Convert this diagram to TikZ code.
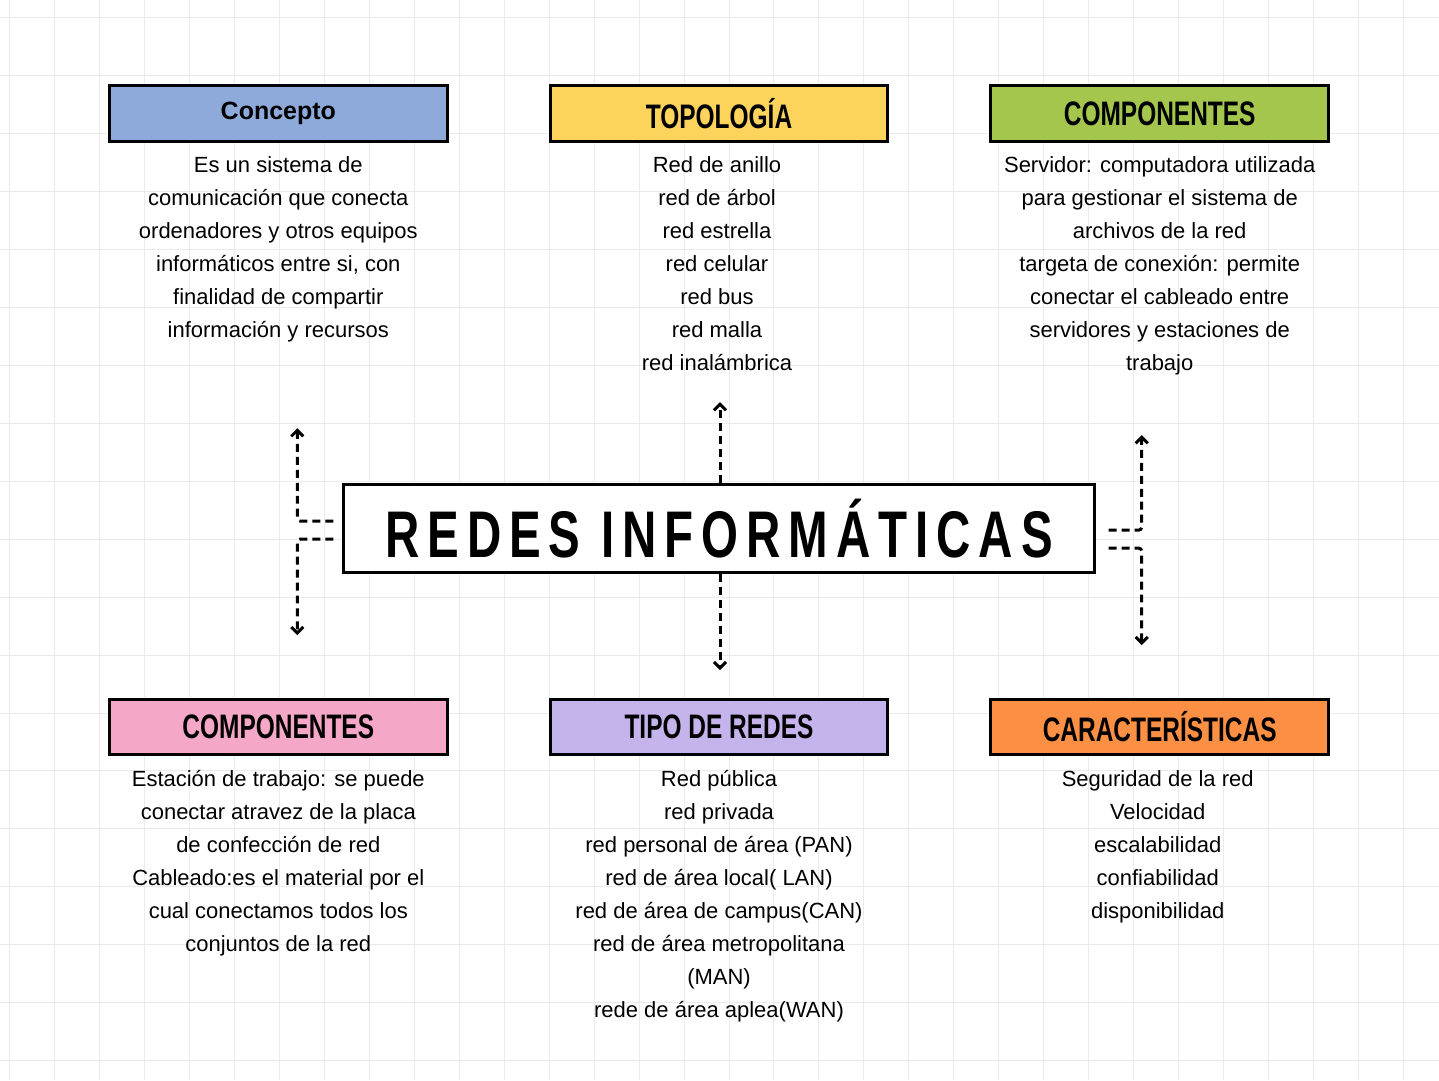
\documentclass[tikz,border=0pt]{standalone}
\usepackage{fontspec}
\setmainfont{Liberation Sans}
\newfontfamily\headfont[FakeStretch=0.72]{Liberation Sans}
\usetikzlibrary{positioning,arrows.meta,calc}
\definecolor{conceptblue}{HTML}{8EAADB}
\definecolor{topoyellow}{HTML}{FCD45C}
\definecolor{compgreen}{HTML}{A4C64C}
\definecolor{comppink}{HTML}{F4A7C6}
\definecolor{tipopurple}{HTML}{C5B3EC}
\definecolor{caracorange}{HTML}{FB8F44}
\begin{document}
\begin{tikzpicture}[x=1pt,y=-1pt,
    header/.style={draw,line width=3pt,minimum width=338pt,minimum height=56pt,inner sep=0pt,font=\fontsize{34}{36}\selectfont\headfont\bfseries},
    bodytext/.style={anchor=north,align=center,font=\fontsize{22}{33}\selectfont,inner sep=0pt},
    link/.style={line width=3pt,dash pattern=on 8pt off 5pt,-{Straight Barb[length=6pt,width=12pt,line width=3pt]}},
  ]
    % background grid
    \fill[white] (0,0) rectangle (1439,1080);
    \foreach \gx in {0,45,...,1439} \draw[black!8,line width=1pt] (\gx+9,0) -- (\gx+9,1080);
    \foreach \gy in {0,58,...,1080} \draw[black!8,line width=1pt] (0,\gy+17) -- (1439,\gy+17);

    % headers
    \node[header,fill=conceptblue,font=\fontsize{25}{28}\selectfont\bfseries] (concepto) at (278,113) {Concepto};
    \node[header,fill=topoyellow] (topologia) at (719,113) {TOPOLOGÍA};
    \node[header,fill=compgreen] (comptop) at (1160,113) {COMPONENTES};
    \node[header,fill=comppink] (compbot) at (278,727) {COMPONENTES};
    \node[header,fill=tipopurple] (tipo) at (719,727) {TIPO DE REDES};
    \node[header,fill=caracorange] (carac) at (1160,727) {CARACTERÍSTICAS};

    % texts
    \node[bodytext] (conceptotxt) at (278,156) {Es un sistema de\\comunicación que conecta\\ordenadores y otros equipos\\informáticos entre si, con\\finalidad de compartir\\información y recursos};
    \node[bodytext] (topotxt) at (717,156) {Red de anillo\\red de árbol\\red estrella\\red celular\\red bus\\red malla\\red inalámbrica};
    \node[bodytext] (comptoptxt) at (1160,156) {Servidor: computadora utilizada\\para gestionar el sistema de\\archivos de la red\\targeta de conexión: permite\\conectar el cableado entre\\servidores y estaciones de\\trabajo};
    \node[bodytext] (compbottxt) at (278,770) {Estación de trabajo: se puede\\conectar atravez de la placa\\de confección de red\\Cableado:es el material por el\\cual conectamos todos los\\conjuntos de la red};
    \node[bodytext] (tipotxt) at (719,770) {Red pública\\red privada\\red personal de área (PAN)\\red de área local( LAN)\\red de área de campus(CAN)\\red de área metropolitana\\(MAN)\\rede de área aplea(WAN)};
    \node[bodytext] (caractxt) at (1158,770) {Seguridad de la red\\Velocidad\\escalabilidad\\confiabilidad\\disponibilidad};

    % central title
    \node[draw,line width=3pt,minimum width=751pt,minimum height=88pt,inner sep=0pt,fill=white,
          font=\fontsize{66}{70}\selectfont\headfont\bfseries] (redes) at (719,528) {\addfontfeature{LetterSpace=12}REDES INFORMÁTICAS};

    % connectors
    \coordinate (lup) at (297,428);
    \coordinate (ldown) at (297,635);
    \coordinate (rup) at (1142,435);
    \coordinate (rdown) at (1142,645);
    \coordinate (mup) at (720,402);
    \coordinate (mdown) at (720,670);
    \draw[link,rounded corners=3pt] ($(redes.west)+(-9,-7)$) -- (297,521) -- (lup);
    \draw[link,rounded corners=3pt] ($(redes.west)+(-9,11)$) -- (297,539) -- (ldown);
    \draw[link,rounded corners=3pt] ($(redes.east)+(13,2)$) -- (1142,530) -- (rup);
    \draw[link,rounded corners=3pt] ($(redes.east)+(13,20)$) -- (1142,548) -- (rdown);
    \draw[link] (redes.north -| mup) -- (mup);
    \draw[link] (redes.south -| mdown) -- (mdown);
\end{tikzpicture}
\end{document}
